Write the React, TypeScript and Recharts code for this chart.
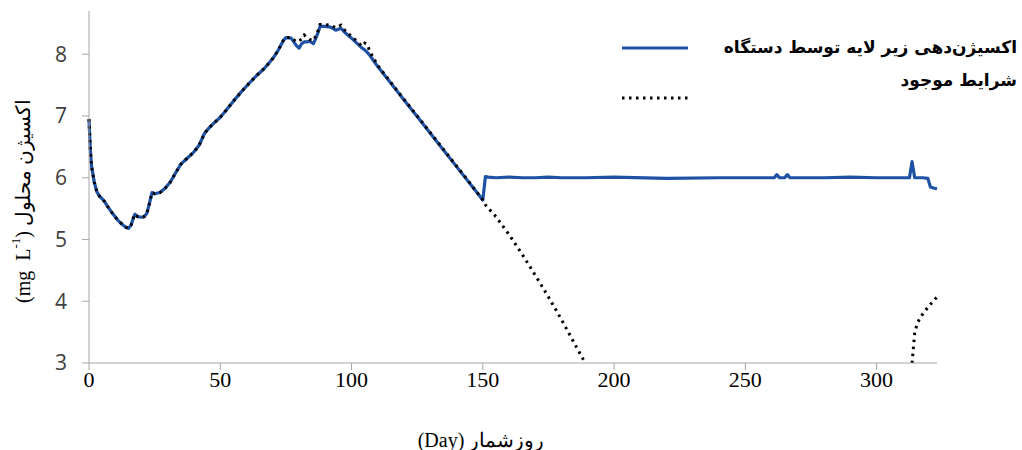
import React from 'react';
import { LineChart, Line, XAxis, YAxis, Legend } from 'recharts';

// dissolved oxygen (mg/L) per day, two scenarios
const days = [
  0, 0.5, 1, 2, 3, 4, 5, 6, 7, 9, 11, 13, 14, 15, 16, 17, 17.5, 18.5, 20, 21,
  22, 23, 24, 25, 27, 29, 31, 33, 35, 37, 40, 42, 44, 46, 48, 50, 52, 55, 58, 61,
  64, 67, 70, 72, 74, 75, 77, 79, 80, 81, 82, 83, 84, 85.5, 87, 88, 90, 92, 94, 96,
  98, 100, 102, 104, 105, 106, 107, 110, 115, 120, 125, 130, 135, 140, 145, 150, 151, 152, 155, 160,
  165, 170, 175, 180, 185, 189, 200, 220, 240, 255, 261, 262, 263, 265, 266, 267, 280, 290, 300, 310,
  312.5, 313.5, 314.5, 315.5, 317.5, 319.5, 320.5, 322, 323,
];

const aeratedDO = [
  6.95, 6.45, 6.18, 5.93, 5.77, 5.7, 5.66, 5.61, 5.54, 5.42, 5.31, 5.23, 5.2, 5.18, 5.23, 5.36, 5.41, 5.37, 5.36, 5.37,
  5.42, 5.58, 5.76, 5.74, 5.76, 5.83, 5.93, 6.08, 6.22, 6.3, 6.42, 6.53, 6.72, 6.82, 6.9, 6.98, 7.08, 7.24, 7.39, 7.53,
  7.66, 7.78, 7.93, 8.06, 8.22, 8.27, 8.26, 8.14, 8.1, 8.17, 8.2, 8.2, 8.21, 8.17, 8.32, 8.45, 8.45, 8.44, 8.39, 8.42,
  8.33, 8.26, 8.18, 8.1, 8.07, 8.03, 7.98, 7.8, 7.53, 7.26, 6.99, 6.72, 6.45, 6.18, 5.91, 5.64, 6.02, 6.01, 6.0, 6.01,
  6.0, 6.0, 6.01, 6.0, 6.0, 6.0, 6.01, 5.99, 6.0, 6.0, 6.0, 6.05, 6.0, 6.0, 6.05, 6.0, 6.0, 6.01, 6.0, 6.0,
  6.0, 6.26, 6.0, 6.0, 6.0, 5.99, 5.85, 5.83, 5.82,
];

const existingDO = [
  6.95, 6.45, 6.18, 5.93, 5.77, 5.7, 5.66, 5.61, 5.54, 5.42, 5.31, 5.23, 5.2, 5.18, 5.23, 5.36, 5.41, 5.37, 5.36, 5.37,
  5.42, 5.58, 5.76, 5.74, 5.76, 5.83, 5.93, 6.08, 6.22, 6.3, 6.42, 6.53, 6.72, 6.82, 6.9, 6.98, 7.08, 7.24, 7.39, 7.53,
  7.66, 7.78, 7.93, 8.06, 8.22, 8.27, 8.27, 8.2, 8.22, 8.24, 8.31, 8.27, 8.24, 8.22, 8.35, 8.48, 8.48, 8.47, 8.43, 8.47,
  8.36, 8.29, 8.21, 8.13, 8.18, 8.16, 8.04, 7.82, 7.54, 7.27, 7.0, 6.73, 6.46, 6.19, 5.92, 5.64, 5.56, 5.51, 5.37, 5.08,
  4.76, 4.42, 4.07, 3.7, 3.31, 3.0, null, null, null, null, null, null, null, null, null, null, null, null, null, null,
  null, 3.0, 3.48, 3.65, 3.79, 3.9, 3.95, 4.02, 4.07,
];

const dayTicks = [0, 50, 100, 150, 200, 250, 300];
const doTicks = [3, 4, 5, 6, 7, 8];
const seriesNames = ['اکسیژن‌دهی زیر لایه توسط دستگاه', 'شرایط موجود'];

const rows = days.map((day, i) => ({ day, aerated: aeratedDO[i], existing: existingDO[i] }));

const BLUE = '#1F52A5';
const AXIS = '#a6a6a6';
const SERIF = "'Liberation Serif', 'Times New Roman', serif";

const YLabel = ({ viewBox }: any) => (
  <text
    transform={`translate(${viewBox.x - 6}, 201) rotate(-90)`}
    textAnchor="middle"
    dominantBaseline="central"
    fontFamily={SERIF}
    fontSize={20}
    fill="#000"
  >
    (mg{'\u00a0\u00a0'}L
    <tspan dy={-8} fontSize={13}>-1</tspan>
    <tspan dy={8}>) اکسیژن محلول</tspan>
  </text>
);

const XLabel = ({ viewBox }: any) => (
  <text
    x={viewBox.x + viewBox.width / 2 - 32}
    y={440}
    textAnchor="middle"
    dominantBaseline="central"
    fontFamily={SERIF}
    fontSize={20}
    fill="#000"
  >
    (Day) روزشمار
  </text>
);

// legend rows: line sample on the left, bold caption right-aligned
const legendRows = [
  { line: 48, text: 47 },
  { line: 98, text: 80 },
];

const LegendBox = ({ payload }: any) => (
  <svg width={1022} height={120}>
    {(payload || []).map((entry: any, i: number) => (
      <g key={entry.value}>
        <line
          x1={622}
          x2={688}
          y1={legendRows[i].line}
          y2={legendRows[i].line}
          stroke={entry.color}
          strokeWidth={entry.payload?.strokeWidth ?? 3}
          strokeDasharray={entry.payload?.strokeDasharray}
        />
        <text
          x={1017}
          y={legendRows[i].text}
          textAnchor="end"
          dominantBaseline="central"
          fontWeight="bold"
          fontSize={17}
          fontFamily="'DejaVu Sans', sans-serif"
          fill="#000"
        >
          {entry.value}
        </text>
      </g>
    ))}
  </svg>
);

export default function App() {
  return (
    <div style={{ position: 'absolute', left: 0, top: 0, background: '#fff' }}>
      <LineChart width={1022} height={450} data={rows} margin={{ top: 11, right: 85, bottom: 57, left: 29 }}>
        <XAxis
          dataKey="day"
          type="number"
          domain={[0, 323]}
          ticks={dayTicks}
          height={30}
          tickSize={7}
          tickMargin={1}
          axisLine={{ stroke: AXIS }}
          tickLine={{ stroke: AXIS }}
          tick={{ fill: '#000', fontSize: 22, fontFamily: SERIF }}
          label={{ content: XLabel }}
        />
        <YAxis
          type="number"
          domain={[3, 8.7]}
          ticks={doTicks}
          width={60}
          tickSize={7}
          tickMargin={15}
          axisLine={{ stroke: AXIS }}
          tickLine={{ stroke: AXIS }}
          tick={{ fill: '#404040', fontSize: 21, fontFamily: "'Open Sans', sans-serif" }}
          label={{ content: YLabel }}
        />
        <Legend
          layout="vertical"
          align="center"
          verticalAlign="middle"
          wrapperStyle={{ top: 0, left: 0, width: 1022, height: 120 }}
          content={LegendBox}
        />
        <Line
          type="linear"
          dataKey="aerated"
          name={seriesNames[0]}
          stroke={BLUE}
          strokeWidth={3.2}
          strokeLinejoin="round"
          dot={false}
          isAnimationActive={false}
        />
        <Line
          type="linear"
          dataKey="existing"
          name={seriesNames[1]}
          stroke="#000"
          strokeWidth={3}
          strokeDasharray="2.5 4.5"
          dot={false}
          isAnimationActive={false}
        />
      </LineChart>
    </div>
  );
}
